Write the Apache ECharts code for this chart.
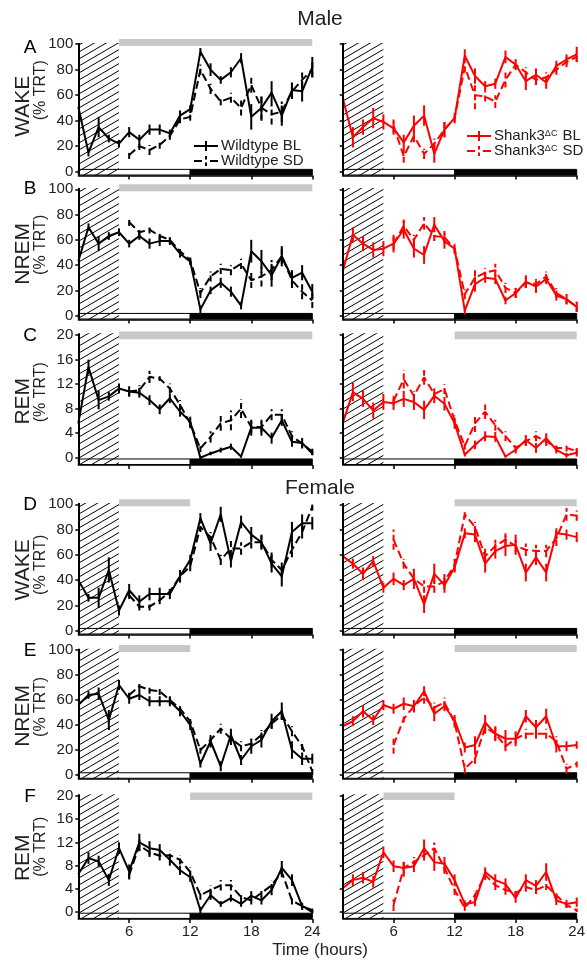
<!DOCTYPE html>
<html><head><meta charset="utf-8">
<script src="https://cdn.jsdelivr.net/npm/echarts@6/dist/echarts.min.js"></script>
<style>html,body{margin:0;padding:0;background:#fff}#c{width:587px;height:964px}</style>
</head><body><div id="c"></div>
<script>
// ---------------- DATA ----------------
const hours = [1,2,3,4,5,6,7,8,9,10,11,12,13,14,15,16,17,18,19,20,21,22,23,24];
const sdHours = [6,7,8,9,10,11,12,13,14,15,16,17,18,19,20,21,22,23,24];
const xTicks = [6,12,18,24];
const pctTicks = [0,20,40,60,80,100];
const remTicks = [0,4,8,12,16,20];

// Male WAKE
const mWakeWtBL    = [51,15,35,26,22,31,25,33,33,30,44,49,94,80,72,78,89,43,50,62,44,64,63,82];
const mWakeWtBLErr = [0,3,8,3,3,4,4,4,4,3,4,3,3,5,3,4,4,10,9,9,8,6,8,8];
const mWakeWtSD    = [13,20,17,21,28,41,43,80,65,55,58,50,68,50,45,47,63,72,80];
const mWakeWtSDErr = [3,3,4,3,3,3,3,4,4,3,4,6,6,10,8,8,6,6,6];
const mWakeShBL    = [58,27,35,42,39,34,23,36,44,14,33,42,91,75,67,69,90,84,71,76,70,83,88,92];
const mWakeShBLErr = [0,8,6,8,6,5,6,8,8,7,6,3,5,6,4,4,5,4,7,5,5,4,4,6];
const mWakeShSD    = [36,12,28,14,22,33,42,82,60,59,55,72,84,78,72,74,80,86,90];
const mWakeShSDErr = [5,5,5,4,4,6,4,4,11,4,5,6,4,4,4,4,4,4,4];
// Male NREM
const mNremWtBL    = [43,70,57,63,66,57,63,57,59,59,49,43,5,20,26,19,8,51,43,32,47,30,34,19];
const mNremWtBLErr = [0,3,6,3,3,3,3,4,4,3,3,3,3,3,4,4,3,9,9,9,8,6,6,6];
const mNremWtSD    = [74,66,68,63,60,51,44,18,31,37,36,41,28,31,36,47,28,19,12];
const mNremWtSDErr = [3,3,3,3,3,3,3,4,4,4,4,4,6,8,8,6,6,6,6];
const mNremShBL    = [35,64,57,52,53,57,68,53,48,72,59,53,4,25,30,29,12,18,27,23,29,16,13,7];
const mNremShBLErr = [0,6,6,6,6,7,7,7,7,6,6,3,3,6,4,4,3,4,5,5,4,4,4,4];
const mNremShSD    = [57,71,60,73,63,62,53,17,30,34,36,22,18,26,25,31,18,13,7];
const mNremShSDErr = [5,5,4,5,4,5,4,4,6,4,5,4,4,4,4,4,4,4,4];
// Male REM
const mRemWtBL    = [5.6,14.8,9.4,10,11.3,10.8,10.6,9.4,7.9,9.7,7.5,5.9,0,0.7,1.25,1.8,0.2,4.9,4.9,3.2,6.1,2.6,2.4,0.7];
const mRemWtBLErr = [0,1.2,1.5,0.7,0.8,0.8,0.8,0.8,0.8,0.8,0.8,0.8,0.2,0.3,0.4,0.5,0.2,1.3,1.3,0.9,0.9,0.8,0.8,0.3];
const mRemWtSD    = [10.8,11,13.2,12.9,11.3,8.6,5.6,1.5,3.4,5.6,6.1,8.0,5,5,7,7,3.5,2.3,1.0];
const mRemWtSDErr = [0.8,0.8,1,0.4,0.8,0.8,0.8,0.6,0.9,1.2,1.6,1.5,0.9,0.9,0.9,0.9,0.8,0.8,0.5];
const mRemShBL    = [5.6,10.7,9.6,7.7,9.1,8.9,9.6,9.1,7.8,10.1,8.8,5.6,0.5,2.1,3.5,3.4,0.2,1.3,2.9,1.6,3.2,1.3,0.4,0.8];
const mRemShBLErr = [0,1.5,1.3,1.3,1.3,1.1,1.3,1.3,1.5,1.2,1.1,0.9,0.3,0.7,0.8,0.8,0.2,0.6,0.8,0.8,0.8,0.6,0.4,0.6];
const mRemShSD    = [9.3,12.8,10.1,13.1,10.4,11.2,6.1,1.9,5.6,7.5,5.3,3.5,1.6,2.7,3.5,2.7,1.6,1.6,1.1];
const mRemShSDErr = [0.8,1.5,0.8,1.2,0.8,0.8,0.8,0.6,1.4,1.2,0.9,0.8,0.6,0.8,0.8,0.8,0.6,0.6,0.5];
// Female WAKE
const fWakeWtBL    = [40,26,26,48,16,32,23,29,29,29,43,56,89,69,92,55,86,76,70,53,43,78,85,85];
const fWakeWtBLErr = [0,3,8,10,4,5,5,5,5,4,5,4,4,6,6,5,5,6,6,7,8,8,7,5];
const fWakeWtSD    = [28,19,19,24,31,43,51,82,74,56,65,65,70,70,56,48,64,78,98];
const fWakeWtSDErr = [3,3,3,3,3,3,4,4,4,4,6,5,5,5,6,6,6,5,3];
const fWakeShBL    = [59,53,45,55,34,41,36,41,21,45,36,50,77,76,53,63,67,68,46,58,46,77,76,74];
const fWakeShBLErr = [0,4,5,4,4,5,4,8,7,8,6,4,4,6,7,6,8,8,7,6,7,4,4,4];
const fWakeShSD    = [72,53,41,35,35,39,52,92,82,59,67,72,67,64,63,63,73,92,91];
const fWakeShSDErr = [8,4,4,5,5,6,5,3,4,6,5,5,5,5,5,5,6,5,4];
// Female NREM
const fNremWtBL    = [56,64,65,44,72,61,64,59,59,59,51,40,9,27,7,32,12,23,28,43,51,20,13,13];
const fNremWtBLErr = [0,3,5,8,4,4,4,4,4,4,4,4,3,5,4,5,4,6,6,6,7,7,5,4];
const fNremWtSD    = [64,71,68,67,60,53,43,20,28,37,29,23,25,32,41,48,35,23,3];
const fNremWtSDErr = [3,3,3,3,3,3,3,3,3,4,5,4,4,4,4,4,4,3,3];
const fNremShBL    = [39,43,51,44,56,53,57,55,67,49,55,44,22,24,42,33,29,29,47,38,47,23,23,24];
const fNremShBLErr = [0,4,5,4,4,4,5,5,4,6,4,4,4,7,6,6,7,6,5,6,6,5,4,3];
const fNremShSD    = [24,45,55,62,54,58,42,5,13,38,33,23,29,33,33,33,27,5,9];
const fNremShSDErr = [7,3,4,5,4,4,4,4,4,5,5,4,4,4,4,4,4,4,3];
// Female REM
const fRemWtBL    = [6.5,9.3,8.7,5.5,11,7,12,11,10.7,9,7.2,6,0.3,2.9,1.4,2.4,1.4,2.8,2,3.8,7.6,5.5,1,0.3];
const fRemWtBLErr = [0,1,1,1,1,1.2,1.5,1.2,1,1,0.8,0.8,0.6,0.8,0.5,0.6,0.5,0.8,0.7,0.9,1.2,1,0.6,0.3];
const fRemWtSD    = [6.4,11.5,10.3,9.7,9.8,9,6.9,2.9,3.8,4.6,4.6,2.6,2,3.3,4.6,6.9,2,1,0];
const fRemWtSDErr = [0.8,1,0.8,0.8,0.8,0.8,0.8,0.8,0.8,0.9,0.9,0.7,0.7,0.7,0.8,0.9,0.7,0.6,0.3];
const fRemShBL    = [4.1,5.5,5.9,5.2,10.3,7.9,7.6,7.9,11,8.6,8.3,5.5,1.4,1.7,6.9,5.5,4.8,2.4,5.5,4.5,6.9,2,1.4,1.7];
const fRemShBLErr = [0,1,1,1,1,1,1,1,1.5,1.5,1.2,1,0.6,0.7,0.8,1,1,0.8,1,1,1.5,0.8,0.7,0.8];
const fRemShSD    = [1.2,7.6,8.6,9.8,11,7.6,3.8,0.7,2.9,6.4,4.6,3.8,3.3,4.3,3.8,4.6,2.9,1.2,0.3];
const fRemShSDErr = [1,1.5,0.9,0.9,1,1,0.9,0.5,0.8,0.9,0.8,0.8,0.7,0.8,0.7,0.8,0.7,0.5,0.3];

// significance bars (hour ranges), null = none
const sigMWakeWt = [5,24], sigMWakeSh = null;
const sigMNremWt = [5,24], sigMNremSh = null;
const sigMRemWt  = [5,24], sigMRemSh  = [12,24];
const sigFWakeWt = [5,12], sigFWakeSh = [12,24];
const sigFNremWt = [5,12], sigFNremSh = [12,24];
const sigFRemWt  = [12,24], sigFRemSh = [5,12];

const sdPeriod = [1,5], lightPeriod = [1,12], darkPeriod = [12,24];
const rowNames = ['WAKE','NREM','REM','WAKE','NREM','REM'];
const rowLetters = ['A','B','C','D','E','F'];

// ---------------- LAYOUT ----------------
const FONT = '"Liberation Sans", Arial, Helvetica, sans-serif';
const RED = '#ff0000';
const rowsPx = [[39.1,175.5],[184.2,319.5],[331.4,465.1],[499.2,634.5],[645,778.75],[792.5,919]];
const rowType = ['pct','pct','rem','pct','pct','rem'];
const scales = {
  pct: {min:-3, max:104, ticks:pctTicks, bar:[-2.6,1.8], top:101, sig:[98.5,104]},
  rem: {min:-1.2, max:20.6, ticks:remTicks, bar:[-1.1,-0.2], top:20.3, sig:[19.3,20.6]}
};
const colLeft = [78.3, 342.7];
const gridW = 234;

const panels = [
  [0,0,mWakeWtBL,mWakeWtBLErr,mWakeWtSD,mWakeWtSDErr,sigMWakeWt,'wt'],
  [0,1,mWakeShBL,mWakeShBLErr,mWakeShSD,mWakeShSDErr,sigMWakeSh,'sh'],
  [1,0,mNremWtBL,mNremWtBLErr,mNremWtSD,mNremWtSDErr,sigMNremWt,'wt'],
  [1,1,mNremShBL,mNremShBLErr,mNremShSD,mNremShSDErr,sigMNremSh,'sh'],
  [2,0,mRemWtBL,mRemWtBLErr,mRemWtSD,mRemWtSDErr,sigMRemWt,'wt'],
  [2,1,mRemShBL,mRemShBLErr,mRemShSD,mRemShSDErr,sigMRemSh,'sh'],
  [3,0,fWakeWtBL,fWakeWtBLErr,fWakeWtSD,fWakeWtSDErr,sigFWakeWt,'wt'],
  [3,1,fWakeShBL,fWakeShBLErr,fWakeShSD,fWakeShSDErr,sigFWakeSh,'sh'],
  [4,0,fNremWtBL,fNremWtBLErr,fNremWtSD,fNremWtSDErr,sigFNremWt,'wt'],
  [4,1,fNremShBL,fNremShBLErr,fNremShSD,fNremShSDErr,sigFNremSh,'sh'],
  [5,0,fRemWtBL,fRemWtBLErr,fRemWtSD,fRemWtSDErr,sigFRemWt,'wt'],
  [5,1,fRemShBL,fRemShBLErr,fRemShSD,fRemShSDErr,sigFRemSh,'sh']
];
const names = {wt:['Wildtype BL','Wildtype SD'], sh:['Shank3ΔC BL','Shank3ΔC SD']};

function hatchCanvas(){
  const c = document.createElement('canvas'); c.width = 12; c.height = 7;
  const g = c.getContext('2d'); g.strokeStyle = '#000'; g.lineWidth = 1;
  g.beginPath();
  [-1,0,1].forEach(k => { g.moveTo(0, 7 + 7*k); g.lineTo(12, 7*k); });
  g.stroke(); return c;
}
const hatch = {image: hatchCanvas(), repeat: 'repeat'};

function errSeries(idx, xs, vals, errs, color, dashed){
  return {
    type:'custom', xAxisIndex:idx, yAxisIndex:idx, silent:true, z:4,
    data: xs.map((h,k)=>[h, vals[k]-errs[k], vals[k]+errs[k]]),
    encode:{x:0, y:[1,2]},
    renderItem:(params, api)=>{
      const a = api.coord([api.value(0), api.value(1)]);
      const b = api.coord([api.value(0), api.value(2)]);
      return {type:'line', shape:{x1:a[0],y1:a[1],x2:b[0],y2:b[1]},
        style:{stroke:color, lineWidth:2, lineDash: dashed ? [6,3] : null}};
    }
  };
}

const grid=[], xAxis=[], yAxis=[], series=[], graphic=[];
panels.forEach((p,i)=>{
  const [row,col,bl,blErr,sd,sdErr,sig,grp] = p;
  const sc = scales[rowType[row]];
  const [top,bottom] = rowsPx[row];
  const color = grp==='wt' ? '#000' : RED;
  grid.push({left:colLeft[col], top:top, width:gridW, height:bottom-top, outerBoundsMode:'none', containLabel:false});
  xAxis.push({type:'value', gridIndex:i, min:1, max:24,
    axisLine:{show:true, onZero:false, lineStyle:{color:'#000', width:1.5}},
    axisTick:{show:true, customValues:xTicks, length:4, lineStyle:{color:'#000', width:1.5}},
    axisLabel:{show:row===5, customValues:xTicks, fontSize:15, color:'#222', margin:5, fontFamily:FONT},
    splitLine:{show:false}});
  yAxis.push({type:'value', gridIndex:i, min:sc.min, max:sc.max,
    axisLine:{show:false},
    axisTick:{show:true, customValues:sc.ticks, length:3, lineStyle:{color:'#000', width:1.5}},
    axisLabel:{show:col===0, customValues:sc.ticks, fontSize:15, color:'#222', margin:5, fontFamily:FONT},
    splitLine:{show:false}});
  const areas = [
    [{xAxis:lightPeriod[0], yAxis:sc.bar[0], itemStyle:{color:'#fff', borderColor:'#000', borderWidth:1}}, {xAxis:lightPeriod[1], yAxis:sc.bar[1]}],
    [{xAxis:darkPeriod[0], yAxis:sc.bar[0], itemStyle:{color:'#000', borderColor:'#000', borderWidth:1}}, {xAxis:darkPeriod[1], yAxis:sc.bar[1]}],
    [{xAxis:sdPeriod[0], yAxis:sc.min, itemStyle:{color:hatch, borderWidth:0}}, {xAxis:sdPeriod[1], yAxis:sc.top}]
  ];
  if (sig) areas.push([{xAxis:sig[0], yAxis:sc.sig[0], itemStyle:{color:'#c8c8c8', borderWidth:0}}, {xAxis:sig[1], yAxis:sc.sig[1]}]);
  series.push({
    name:names[grp][0], type:'line', xAxisIndex:i, yAxisIndex:i, z:3,
    data: hours.map((h,k)=>[h, bl[k]]), symbol:'none', color:color,
    lineStyle:{color:color, width:2}, silent:true,
    markArea:{silent:true, z:1, label:{show:false}, data:areas},
    markLine:{silent:true, symbol:['none','none'], label:{show:false},
      lineStyle:{color:'#000', width:2, type:'solid'},
      data:[[{coord:[1, sc.min]}, {coord:[1, sc.top]}]]}
  });
  series.push(errSeries(i, hours, bl, blErr, color, false));
  series.push({
    name:names[grp][1], type:'line', xAxisIndex:i, yAxisIndex:i, z:3,
    data: sdHours.map((h,k)=>[h, sd[k]]), symbol:'none', color:color,
    lineStyle:{color:color, width:2, type:[8,4]}, silent:true
  });
  series.push(errSeries(i, sdHours, sd, sdErr, color, true));

  if (col===0){
    const mid = (rowsPx[row][0]+rowsPx[row][1])/2;
    graphic.push({type:'text', x:23.5, y:mid + [ -1, 2, 3, 3, 4, 2][row], rotation:Math.PI/2,
      style:{text:rowNames[row], font:'21px '+FONT, fill:'#222', align:'center', verticalAlign:'middle'}});
    graphic.push({type:'text', x:40.5, y:mid + [-17,-7,-6,-2,-5,-9][row], rotation:Math.PI/2,
      style:{text:'(% TRT)', font:'16px '+FONT, fill:'#222', align:'center', verticalAlign:'middle'}});
  }
});

const letterY = [48,189,336,505,651,797];
letterY.forEach((y,r)=>graphic.push({type:'text', x:30, y:y,
  style:{text:rowLetters[r], font:'19px '+FONT, fill:'#000', align:'center', verticalAlign:'middle'}}));
graphic.push({type:'text', x:320, y:19, style:{text:'Male', font:'21px '+FONT, fill:'#222', align:'center', verticalAlign:'middle'}});
graphic.push({type:'text', x:320, y:488, style:{text:'Female', font:'21px '+FONT, fill:'#222', align:'center', verticalAlign:'middle'}});
graphic.push({type:'text', x:320, y:950, style:{text:'Time (hours)', font:'17px '+FONT, fill:'#222', align:'center', verticalAlign:'middle'}});

const iconBL = 'path://M0,4L24,4L24,6L0,6Z M11,0L13,0L13,10L11,10Z';
const iconSD = 'path://M0,4L8,4L8,6L0,6Z M11,0L13,0L13,3.5L11,3.5Z M11,6.5L13,6.5L13,10L11,10Z M16,4L24,4L24,6L16,6Z';
const legendBase = {orient:'vertical', itemGap:0, itemWidth:24, itemHeight:10, padding:0, selectedMode:false,
  itemStyle:{borderWidth:0}, lineStyle:{width:0},
  textStyle:{fontSize:15, color:'#222', fontFamily:FONT, lineHeight:13, padding:[0,0,0,-2],
    rich:{s:{fontSize:9, fontFamily:FONT, color:'#222', verticalAlign:'top', lineHeight:9, padding:[0,1,0,0]}}}};
const option = {
  animation:false, backgroundColor:'#fff',
  grid, xAxis, yAxis, series, graphic,
  legend:[
    Object.assign({}, legendBase, {left:194, top:138.5, data:[{name:names.wt[0], icon:iconBL},{name:names.wt[1], icon:iconSD}]}),
    Object.assign({}, legendBase, {left:467, top:128.5, data:[{name:names.sh[0], icon:iconBL},{name:names.sh[1], icon:iconSD}],
      formatter:n=>n.replace('ΔC','{s|ΔC}')})
  ]
};
const chart = echarts.init(document.getElementById('c'), null, {renderer:'canvas'});
chart.setOption(option);
</script></body></html>
